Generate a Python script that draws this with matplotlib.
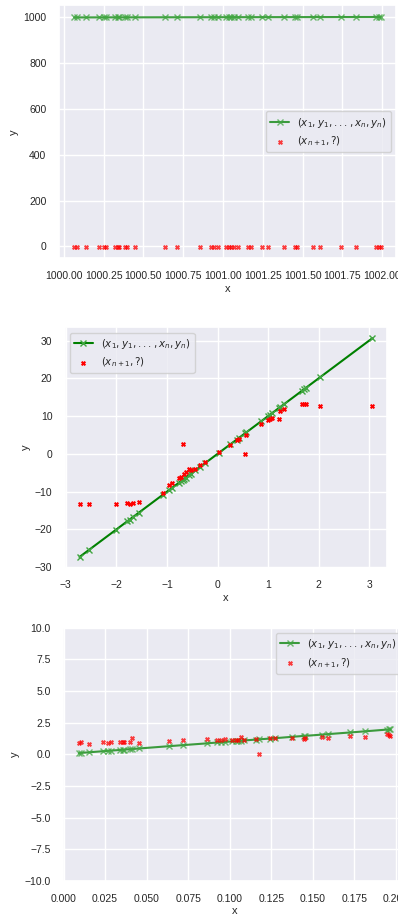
import matplotlib
matplotlib.use("Agg")
import matplotlib.pyplot as plt
import seaborn as sns

# panel 1: x shifted to ~1000, model gives ~0 everywhere
x_big = [1000.066, 1000.081, 1000.139, 1000.221, 1000.252, 1000.267, 1000.325, 1000.341,
         1000.350, 1000.387, 1000.399, 1000.445, 1000.635, 1000.713, 1000.858, 1000.924,
         1000.941, 1000.970, 1001.018, 1001.038, 1001.053, 1001.069, 1001.094, 1001.156,
         1001.176, 1001.245, 1001.280, 1001.386, 1001.454, 1001.462, 1001.566, 1001.607,
         1001.741, 1001.835, 1001.959, 1001.979, 1001.990]
y_big = [1000.07, 1000.08, 1000.14, 1000.22, 1000.25, 1000.27, 1000.33, 1000.34,
         1000.35, 1000.39, 1000.40, 1000.45, 1000.64, 1000.71, 1000.86, 1000.92,
         1000.94, 1000.97, 1001.02, 1001.04, 1001.05, 1001.07, 1001.09, 1001.16,
         1001.18, 1001.25, 1001.28, 1001.39, 1001.45, 1001.46, 1001.57, 1001.61,
         1001.74, 1001.84, 1001.96, 1001.98, 1001.99]
pred_big = [-2, -2, -2, -2, -2, -2, -2, -2, -2, -2, -2, -2, -2, -2, -2, -2, -2, -2, -2,
            -2, -2, -2, -2, -2, -2, -2, -2, -2, -2, -2, -2, -2, -2, -2, -2, -2, -2]

# panel 2: normal x
x_norm = [-2.73, -2.54, -2.01, -1.79, -1.74, -1.67, -1.56, -1.08, -0.96, -0.91, -0.77,
          -0.73, -0.69, -0.66, -0.63, -0.56, -0.52, -0.44, -0.34, -0.25, 0.02, 0.25,
          0.38, 0.42, 0.55, 0.57, 0.86, 1.00, 1.04, 1.07, 1.21, 1.24, 1.31, 1.67, 1.71,
          1.75, 2.03, 3.06]
y_norm = [-27.3, -25.4, -20.1, -17.9, -17.4, -16.7, -15.6, -10.8, -9.6, -9.1, -7.7,
          -7.3, -6.9, -6.6, -6.3, -5.6, -5.2, -4.4, -3.4, -2.5, 0.2, 2.5,
          3.8, 4.2, 5.5, 5.7, 8.6, 10.0, 10.4, 10.7, 12.1, 12.4, 13.1, 16.7, 17.1,
          17.5, 20.3, 30.6]
pred_norm = [-13.3, -13.3, -13.3, -12.9, -13.2, -12.9, -12.8, -10.3, -8.2, -7.8, -6.4,
             -6.1, 2.6, -5.2, -4.9, -4.0, -4.3, -3.9, -2.9, -2.1, 0.5, 2.4,
             3.6, 3.9, -0.1, 4.9, 7.8, 9.1, 9.3, 9.4, 9.3, 11.3, 12.0, 13.1, 13.1,
             13.1, 12.7, 12.8]

# panel 3: small x
x_small = [0.0092, 0.0106, 0.0156, 0.0236, 0.0266, 0.0286, 0.0340, 0.0356, 0.0366, 0.0402,
           0.0412, 0.0456, 0.0636, 0.0716, 0.0860, 0.0926, 0.0946, 0.0970, 0.1016, 0.1036,
           0.1052, 0.1066, 0.1086, 0.1156, 0.1176, 0.1242, 0.1272, 0.1376, 0.1446, 0.1450,
           0.1552, 0.1590, 0.1722, 0.1812, 0.1946, 0.1956, 0.1966]
y_small = [0.09, 0.11, 0.16, 0.24, 0.27, 0.29, 0.34, 0.36, 0.37, 0.40,
           0.41, 0.46, 0.64, 0.72, 0.86, 0.93, 0.95, 0.97, 1.02, 1.04,
           1.05, 1.07, 1.09, 1.16, 1.18, 1.24, 1.27, 1.38, 1.45, 1.45,
           1.55, 1.59, 1.72, 1.81, 1.95, 1.96, 1.97]
pred_small = [0.87, 0.95, 0.84, 1.00, 0.90, 0.97, 0.97, 0.97, 0.97, 1.00,
              1.26, 0.92, 1.02, 1.10, 1.18, 1.16, 1.12, 1.20, 1.10, 1.12,
              1.15, 1.35, 1.10, 1.20, 0.00, 1.25, 1.25, 1.30, 1.18, 1.25,
              1.35, 1.30, 1.45, 1.35, 1.60, 1.50, 1.45]

lbl_fit = r'$(x_1, y_1, ..., x_n, y_n)$'
lbl_new = r'$(x_{n+1}, ?)$'

sns.set_theme(style='darkgrid')
plt.rcParams['font.family'] = ['Liberation Sans', 'DejaVu Sans']
plt.rcParams['font.size'] = 7.5
plt.rcParams['axes.labelsize'] = 8
plt.rcParams['xtick.labelsize'] = 7.5
plt.rcParams['ytick.labelsize'] = 7.5
plt.rcParams['legend.fontsize'] = 7.4

fig = plt.figure(figsize=(3.98, 9.16), dpi=100)
ax1 = fig.add_axes([0.148, 0.718, 0.847, 0.276])
ax2 = fig.add_axes([0.163, 0.380, 0.809, 0.2626])
ax3 = fig.add_axes([0.159, 0.0382, 0.861, 0.2767])


def draw(ax, x, y, pred, red, alpha, loc):
    ax.plot(x, y, '-x', color='green', lw=1.5, ms=4.5, mew=1.0,
            mec=(0.25, 0.65, 0.25, 0.7), alpha=alpha, label=lbl_fit)
    ax.scatter(x, pred, marker='x', s=7, linewidths=1.5, color=red, alpha=alpha,
               label=lbl_new, zorder=3)
    ax.set_xlabel('x', labelpad=2)
    ax.set_ylabel('y', labelpad=3)
    ax.tick_params(pad=3)
    ax.legend(loc=loc, handlelength=1.8)


draw(ax1, x_big, y_big, pred_big, 'red', 0.75, 'center right')
ax1.ticklabel_format(axis='x', useOffset=False)

draw(ax2, x_norm, y_norm, pred_norm, 'red', 1.0, 'upper left')

draw(ax3, x_small, y_small, pred_small, 'red', 0.75, 'upper right')
ax3.set_ylim(-10, 10)

fig.savefig('out.png', dpi=100)
